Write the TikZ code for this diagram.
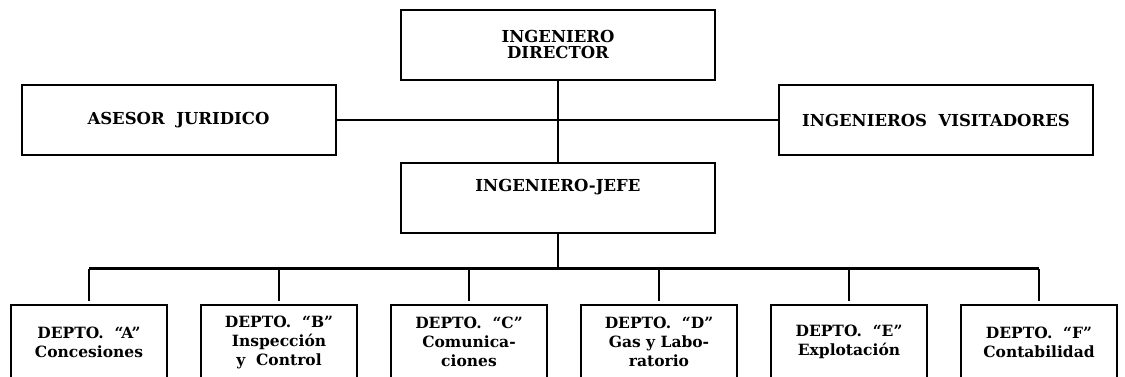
\documentclass[tikz,border=0pt]{standalone}
\usepackage{fontspec}
\setmainfont{DejaVu Serif}
\usetikzlibrary{positioning}

\begin{document}
\begin{tikzpicture}[x=1pt,y=1pt,line width=2pt]
	\tikzstyle{block} = [draw, rectangle, align=center, inner sep=0pt, outer sep=0pt, font=\bfseries\fontsize{16.5}{16}\selectfont]
	\tikzstyle{topblock} = [block, minimum height=70pt, minimum width=314pt]
	\tikzstyle{dept} = [block, minimum height=74pt, minimum width=156pt, font=\bfseries\fontsize{15.5}{19}\selectfont]

	\clip (0,0) rectangle (1125,-376);

	\node [topblock] (director) at (558,-44.5) {INGENIERO\\DIRECTOR};
	\node [topblock] (asesor) at (178.5,-120) {ASESOR\ \ JURIDICO};
	\node [topblock] (visitadores) at (936,-120) {INGENIEROS\ \ VISITADORES};
	\node [topblock, below = 83pt of director, text depth=24pt] (jefe) {INGENIERO-JEFE};

	\node [coordinate, below = 36pt of jefe] (bus) {};

	\node [dept] (deptA) at (89,-342) {DEPTO.\ \ ``A''\\Concesiones};
	\node [dept, right = 34pt of deptA] (deptB) {DEPTO.\ \ ``B''\\Inspección\\y\ \ Control};
	\node [dept, right = 34pt of deptB] (deptC) {DEPTO.\ \ ``C''\\Comunica-\\ciones};
	\node [dept, right = 34pt of deptC] (deptD) {DEPTO.\ \ ``D''\\Gas y Labo-\\ratorio};
	\node [dept, right = 34pt of deptD] (deptE) {DEPTO.\ \ ``E''\\Explotación};
	\node [dept, right = 34pt of deptE] (deptF) {DEPTO.\ \ ``F''\\Contabilidad};

	\draw (director) -- (jefe);
	\draw (asesor) -- (visitadores);
	\draw (jefe) -- (bus);
	\draw [line width=2.6pt] (deptA.north |- bus) -- (deptF.north |- bus);
	\draw [shorten <=4pt] (deptA) -- (deptA.north |- bus);
	\draw [shorten <=4pt] (deptB) -- (deptB.north |- bus);
	\draw [shorten <=4pt] (deptC) -- (deptC.north |- bus);
	\draw [shorten <=4pt] (deptD) -- (deptD.north |- bus);
	\draw [shorten <=4pt] (deptE) -- (deptE.north |- bus);
	\draw [shorten <=4pt] (deptF) -- (deptF.north |- bus);
\end{tikzpicture}
\end{document}
